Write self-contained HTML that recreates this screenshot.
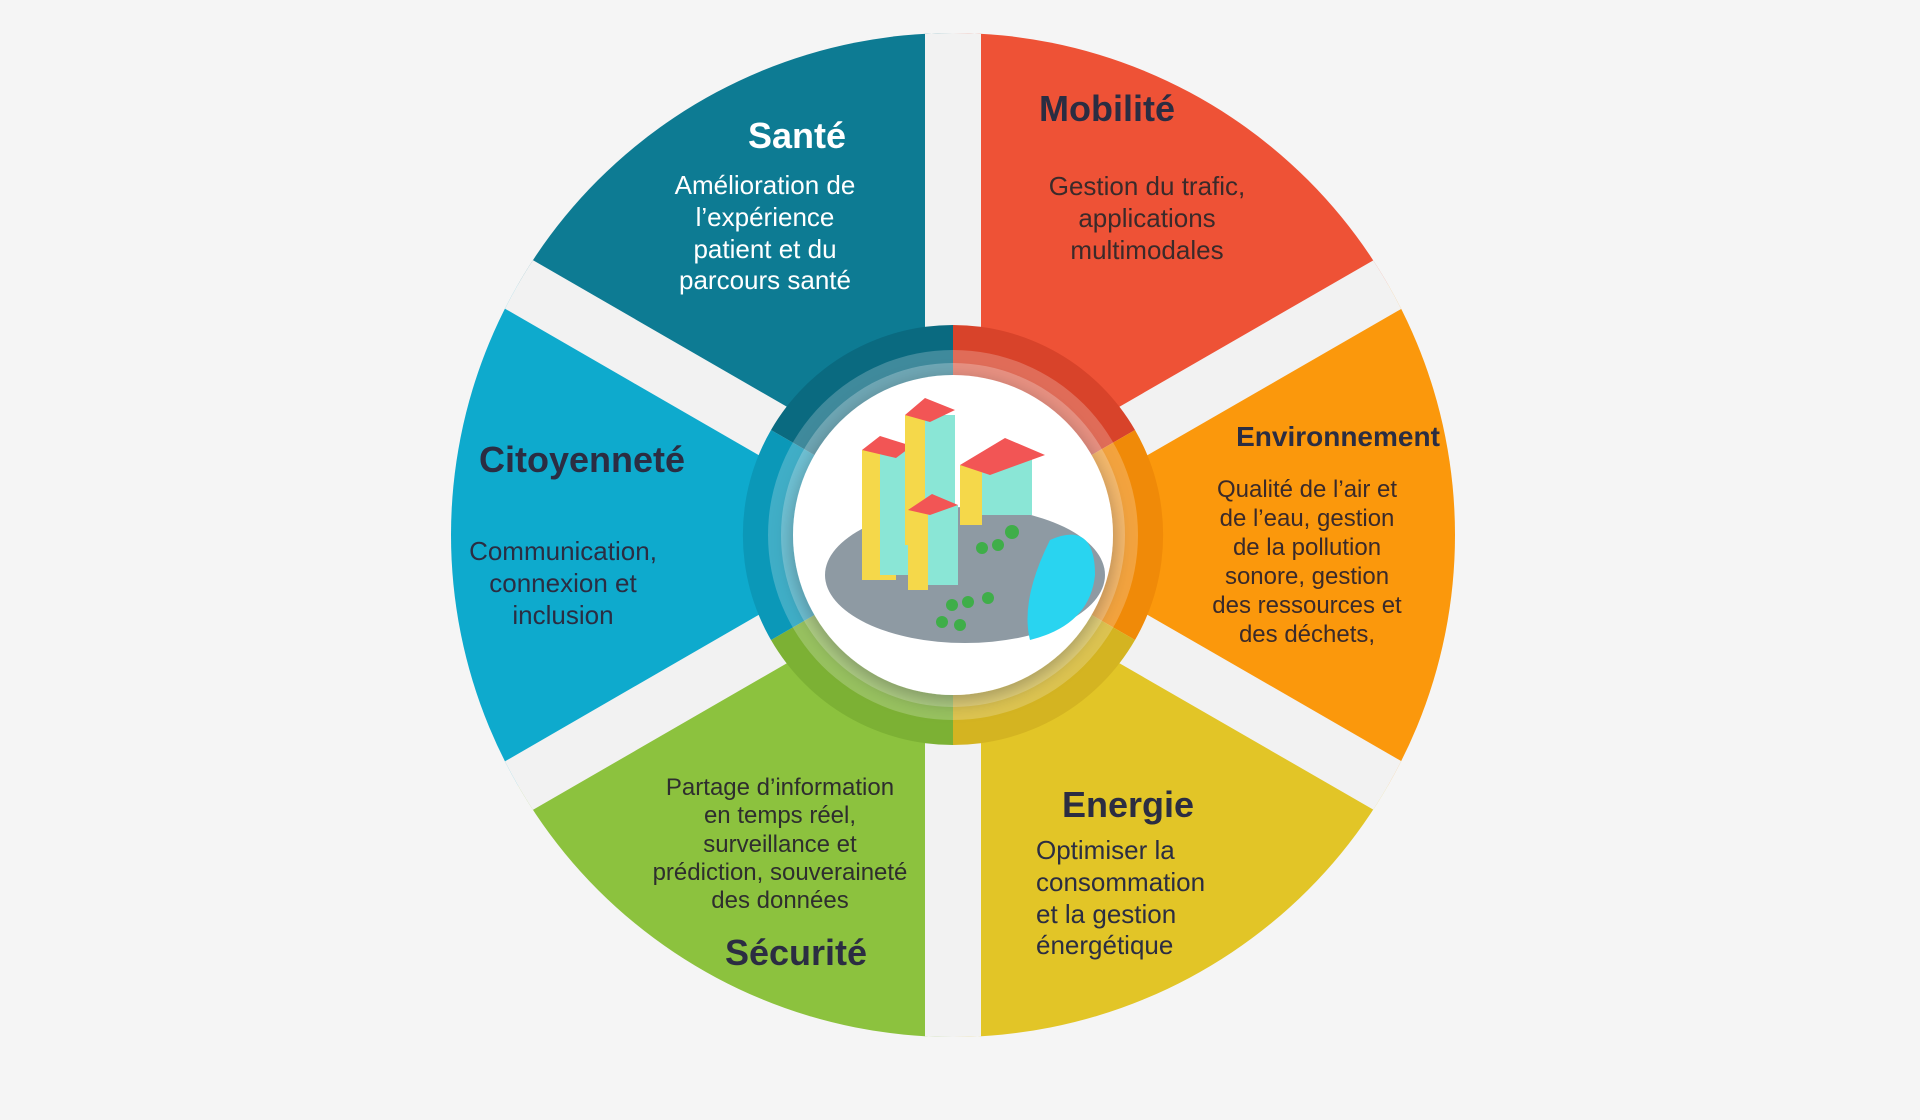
<!DOCTYPE html>
<html><head><meta charset="utf-8"><style>
html,body{margin:0;padding:0;background:#f5f5f5;}
svg{display:block}
text{font-family:"Liberation Sans",sans-serif;}
</style></head><body>
<svg width="1920" height="1120" viewBox="0 0 1920 1120" xmlns="http://www.w3.org/2000/svg">
<defs>
<filter id="sh" x="-30%" y="-30%" width="160%" height="160%"><feDropShadow dx="0" dy="6" stdDeviation="10" flood-color="#000" flood-opacity="0.3"/></filter>
<clipPath id="circ"><circle cx="953" cy="535" r="502"/></clipPath>
</defs>
<rect width="1920" height="1120" fill="#f5f5f5"/>
<g clip-path="url(#circ)">
<path d="M953,535 L953,0 L1600,0 L1600,162 Z" fill="#ee5236"/>
<path d="M953,535 L1600,162 L1600,908 Z" fill="#fb980c"/>
<path d="M953,535 L1600,908 L1600,1120 L953,1120 Z" fill="#e2c527"/>
<path d="M953,535 L953,1120 L300,1120 L300,912 Z" fill="#8cc23e"/>
<path d="M953,535 L300,912 L300,158 Z" fill="#0eaacd"/>
<path d="M953,535 L300,158 L300,0 L953,0 Z" fill="#0d7b93"/>
<g stroke="#f2f2f2" stroke-width="56">
<line x1="953" y1="0" x2="953" y2="1120"/>
<line x1="953" y1="535" x2="1600" y2="162"/>
<line x1="953" y1="535" x2="1600" y2="908"/>
<line x1="953" y1="535" x2="300" y2="912"/>
<line x1="953" y1="535" x2="300" y2="158"/>
</g>
</g>
<g>
<path d="M953,535 L953,325 A210,210 0 0 1 1135,430 Z" fill="#d8432a"/>
<path d="M953,535 L1135,430 A210,210 0 0 1 1135,640 Z" fill="#f08a08"/>
<path d="M953,535 L1135,640 A210,210 0 0 1 953,745 Z" fill="#d4b421"/>
<path d="M953,535 L953,745 A210,210 0 0 1 771,640 Z" fill="#7cb134"/>
<path d="M953,535 L771,640 A210,210 0 0 1 771,430 Z" fill="#0b98b8"/>
<path d="M953,535 L771,430 A210,210 0 0 1 953,325 Z" fill="#0a6a80"/>
<circle cx="953" cy="535" r="185" fill="#ffffff" opacity="0.22"/>
<circle cx="953" cy="535" r="172" fill="#ffffff" opacity="0.25"/>
</g>
<circle cx="953" cy="535" r="160" fill="#ffffff" filter="url(#sh)"/>
<g>
<ellipse cx="965" cy="575" rx="140" ry="68" fill="#8e9aa3"/>
<path d="M1050,540 Q1095,520 1095,575 Q1090,625 1030,640 Q1020,600 1050,540 Z" fill="#29d4f0"/>
<rect x="862" y="450" width="34" height="130" fill="#f5d84a"/>
<rect x="880" y="450" width="32" height="125" fill="#8ae6d6"/>
<polygon points="862,450 880,436 912,446 896,458" fill="#f25555"/>
<rect x="905" y="415" width="20" height="130" fill="#f5d84a"/>
<rect x="925" y="415" width="30" height="125" fill="#8ae6d6"/>
<polygon points="905,415 925,398 955,410 930,422" fill="#f25555"/>
<rect x="960" y="465" width="22" height="60" fill="#f5d84a"/>
<rect x="982" y="455" width="50" height="60" fill="#8ae6d6"/>
<polygon points="960,465 1005,438 1045,455 990,475" fill="#f25555"/>
<rect x="908" y="510" width="20" height="80" fill="#f5d84a"/>
<rect x="928" y="505" width="30" height="80" fill="#8ae6d6"/>
<polygon points="908,510 932,494 958,505 930,515" fill="#f25555"/>
<g fill="#3fae49"><circle cx="1012" cy="532" r="7"/><circle cx="998" cy="545" r="6"/><circle cx="982" cy="548" r="6"/><circle cx="952" cy="605" r="6"/><circle cx="968" cy="602" r="6"/><circle cx="988" cy="598" r="6"/><circle cx="942" cy="622" r="6"/><circle cx="960" cy="625" r="6"/></g>
</g>
<g text-anchor="middle">
<text x="797" y="148" font-size="36" font-weight="bold" fill="#fff">Santé</text>
<g font-size="26" fill="#fff"><text x="765" y="194">Amélioration de</text><text x="765" y="226">l’expérience</text><text x="765" y="258">patient et du</text><text x="765" y="289">parcours santé</text></g>
<text x="1107" y="121" font-size="36" font-weight="bold" fill="#2b2d42">Mobilité</text>
<g font-size="26" fill="#3a2a2a"><text x="1147" y="195">Gestion du trafic,</text><text x="1147" y="227">applications</text><text x="1147" y="259">multimodales</text></g>
<text x="1338" y="446" font-size="28" font-weight="bold" fill="#2b2d42">Environnement</text>
<g font-size="24" fill="#3a2a2a"><text x="1307" y="497">Qualité de l’air et</text><text x="1307" y="526">de l’eau, gestion</text><text x="1307" y="555">de la pollution</text><text x="1307" y="584">sonore, gestion</text><text x="1307" y="613">des ressources et</text><text x="1307" y="642">des déchets,</text></g>
<text x="796" y="965" font-size="36" font-weight="bold" fill="#2b2d42">Sécurité</text>
<g font-size="24" fill="#2e2e2e"><text x="780" y="795">Partage d’information</text><text x="780" y="823">en temps réel,</text><text x="780" y="852">surveillance et</text><text x="780" y="880">prédiction, souveraineté</text><text x="780" y="908">des données</text></g>
<text x="582" y="472" font-size="36" font-weight="bold" fill="#2b2d42">Citoyenneté</text>
<g font-size="26" fill="#2b2d42"><text x="563" y="560">Communication,</text><text x="563" y="592">connexion et</text><text x="563" y="624">inclusion</text></g>
</g>
<text x="1128" y="817" font-size="36" font-weight="bold" fill="#2b2d42" text-anchor="middle">Energie</text>
<g font-size="26" fill="#2b2d42"><text x="1036" y="859">Optimiser la</text><text x="1036" y="891">consommation</text><text x="1036" y="923">et la gestion</text><text x="1036" y="954">énergétique</text></g>
</svg>
</body></html>
